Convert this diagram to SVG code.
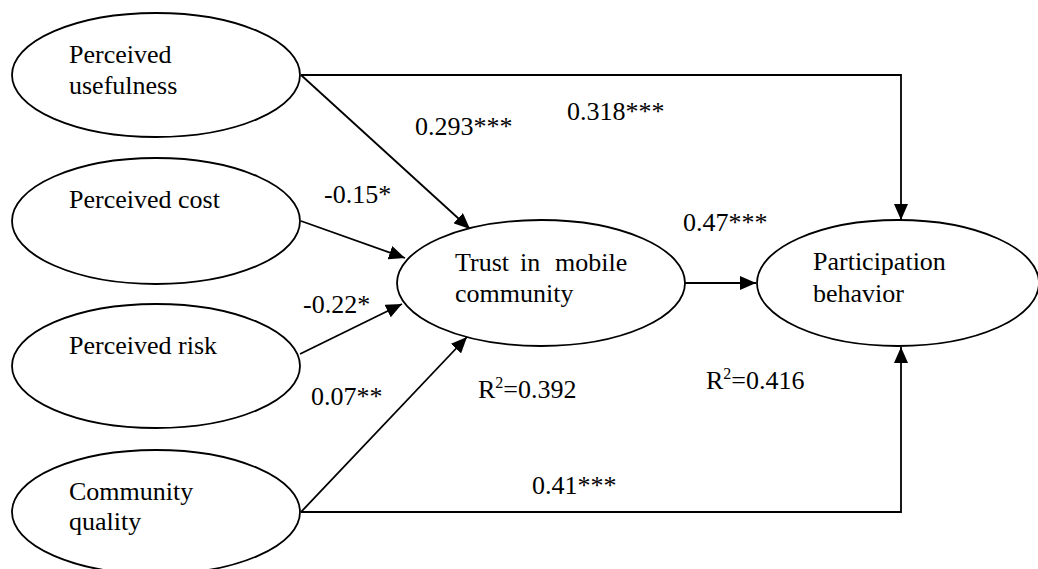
<svg xmlns="http://www.w3.org/2000/svg" width="1038" height="569" viewBox="0 0 1038 569">
<style>
.node ellipse{fill:#fff;stroke:#000;stroke-width:1.8}
text{font-family:"Liberation Serif","Times New Roman",serif;font-size:26px;fill:#000}
.conn line,.conn polyline{fill:none;stroke:#000;stroke-width:1.8}
</style>
<defs>
<marker id="arr" markerUnits="userSpaceOnUse" markerWidth="16" markerHeight="14" refX="16" refY="7" orient="auto">
<path d="M0,0 L16,7 L0,14 Z" fill="#000"/>
</marker>
</defs>
<rect width="1038" height="569" fill="#fff"/>
<g id="connectors" class="conn">
<polyline points="301,75 901,75 901,220" marker-end="url(#arr)"/>
<line x1="301" y1="75" x2="470" y2="229" marker-end="url(#arr)"/>
<line x1="301" y1="221" x2="405" y2="258" marker-end="url(#arr)"/>
<line x1="300" y1="354" x2="402" y2="304" marker-end="url(#arr)"/>
<line x1="301" y1="512" x2="467" y2="337" marker-end="url(#arr)"/>
<polyline points="301,512 901,512 901,347" marker-end="url(#arr)"/>
<line x1="685" y1="283" x2="756" y2="283" marker-end="url(#arr)"/>
</g>
<g id="pu" class="node">
<ellipse cx="156" cy="75" rx="144" ry="62"/>
<text x="69" y="63">Perceived</text>
<text x="69" y="94">usefulness</text>
</g>
<g id="pc" class="node">
<ellipse cx="156" cy="221" rx="144" ry="63"/>
<text x="69" y="208">Perceived cost</text>
</g>
<g id="pr" class="node">
<ellipse cx="156" cy="366" rx="144" ry="62"/>
<text x="69" y="354">Perceived risk</text>
</g>
<g id="cq" class="node">
<ellipse cx="156" cy="512" rx="144" ry="62"/>
<text x="69" y="500">Community</text>
<text x="69" y="530">quality</text>
</g>
<g id="trust" class="node">
<ellipse cx="541" cy="283" rx="144" ry="63"/>
<text y="271"><tspan x="455">Trust</tspan><tspan x="520">in</tspan><tspan x="555">mobile</tspan></text>
<text x="455" y="302">community</text>
</g>
<g id="pb" class="node">
<ellipse cx="898" cy="283" rx="141" ry="63"/>
<text x="813" y="270">Participation</text>
<text x="813" y="302">behavior</text>
</g>
<g id="labels">
<text x="415" y="135">0.293***</text>
<text x="567" y="120">0.318***</text>
<text x="324" y="203">-0.15*</text>
<text x="683" y="231">0.47***</text>
<text x="303" y="313">-0.22*</text>
<text x="311" y="405">0.07**</text>
<text x="478" y="398">R<tspan font-size="16" dy="-10">2</tspan><tspan dy="10">=0.392</tspan></text>
<text x="706" y="389">R<tspan font-size="16" dy="-10">2</tspan><tspan dy="10">=0.416</tspan></text>
<text x="532" y="494">0.41***</text>
</g>
</svg>
